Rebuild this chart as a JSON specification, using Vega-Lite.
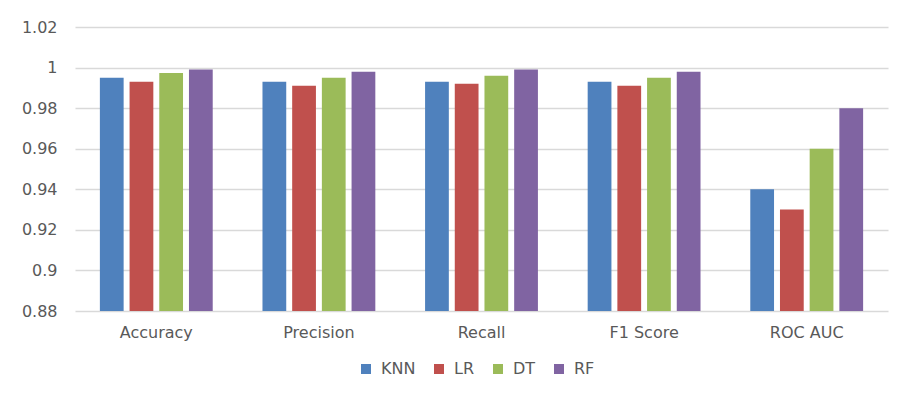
{
  "$schema": "https://vega.github.io/schema/vega-lite/v6.json",
  "autosize": "none",
  "width": 813,
  "height": 284,
  "padding": {"left": 75, "top": 27, "right": 15, "bottom": 86},
  "background": "white",
  "config": {
    "view": {"stroke": null},
    "font": "DejaVu Sans",
    "axis": {"labelFont": "DejaVu Sans", "labelColor": "#595959", "labelFontSize": 16},
    "legend": {"labelFont": "DejaVu Sans", "labelColor": "#595959", "labelFontSize": 16}
  },
  "data": {
    "values": [
      {"metric": "Accuracy", "model": "KNN", "value": 0.995},
      {"metric": "Accuracy", "model": "LR", "value": 0.993},
      {"metric": "Accuracy", "model": "DT", "value": 0.9973},
      {"metric": "Accuracy", "model": "RF", "value": 0.999},
      {"metric": "Precision", "model": "KNN", "value": 0.993},
      {"metric": "Precision", "model": "LR", "value": 0.991},
      {"metric": "Precision", "model": "DT", "value": 0.995},
      {"metric": "Precision", "model": "RF", "value": 0.998},
      {"metric": "Recall", "model": "KNN", "value": 0.993},
      {"metric": "Recall", "model": "LR", "value": 0.992},
      {"metric": "Recall", "model": "DT", "value": 0.996},
      {"metric": "Recall", "model": "RF", "value": 0.999},
      {"metric": "F1 Score", "model": "KNN", "value": 0.993},
      {"metric": "F1 Score", "model": "LR", "value": 0.991},
      {"metric": "F1 Score", "model": "DT", "value": 0.995},
      {"metric": "F1 Score", "model": "RF", "value": 0.998},
      {"metric": "ROC AUC", "model": "KNN", "value": 0.94},
      {"metric": "ROC AUC", "model": "LR", "value": 0.93},
      {"metric": "ROC AUC", "model": "DT", "value": 0.96},
      {"metric": "ROC AUC", "model": "RF", "value": 0.98}
    ]
  },
  "mark": {"type": "bar", "clip": true},
  "encoding": {
    "x": {
      "field": "metric",
      "type": "nominal",
      "sort": ["Accuracy", "Precision", "Recall", "F1 Score", "ROC AUC"],
      "scale": {"paddingInner": 0.306, "paddingOuter": 0.153},
      "axis": {
        "title": null,
        "labelAngle": 0,
        "ticks": false,
        "domain": false,
        "labelPadding": 13
      }
    },
    "xOffset": {
      "field": "model",
      "type": "nominal",
      "sort": ["KNN", "LR", "DT", "RF"],
      "scale": {"paddingInner": 0.2, "paddingOuter": 0}
    },
    "y": {
      "field": "value",
      "type": "quantitative",
      "scale": {"domain": [0.88, 1.02], "nice": false, "zero": false},
      "axis": {
        "title": null,
        "values": [0.88, 0.9, 0.92, 0.94, 0.96, 0.98, 1, 1.02],
        "format": "~g",
        "ticks": false,
        "domain": false,
        "labelPadding": 18,
        "gridColor": "#D9D9D9",
        "gridWidth": 1.3
      }
    },
    "color": {
      "field": "model",
      "type": "nominal",
      "sort": ["KNN", "LR", "DT", "RF"],
      "scale": {
        "domain": ["KNN", "LR", "DT", "RF"],
        "range": ["#4F81BD", "#C0504D", "#9BBB59", "#8064A2"]
      },
      "legend": {
        "title": null,
        "orient": "none",
        "legendX": 283,
        "legendY": 334,
        "direction": "horizontal",
        "symbolType": "square",
        "symbolSize": 100,
        "symbolStrokeWidth": 0,
        "labelOffset": 7,
        "columnPadding": 15
      }
    }
  }
}
